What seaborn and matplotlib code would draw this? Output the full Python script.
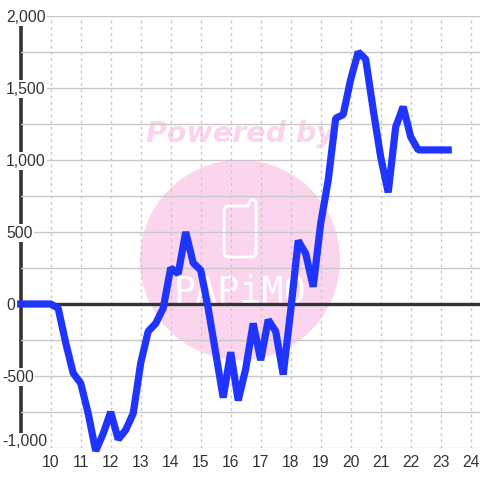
import numpy as np
import seaborn as sns
import matplotlib.pyplot as plt
from matplotlib.patches import Circle, PathPatch
from matplotlib.path import Path
from matplotlib.transforms import ScaledTranslation

# quarter hour samples from 9:00 to 23:15
hours = np.arange(9, 23.5, 0.25)
values = [0, 0, 0, 0, 0,
          -30, -270, -480, -550, -760, -1020, -900, -750, -940, -875, -760,
          -410, -190, -135, -30, 250, 210, 500, 285, 235, -30, -340, -650,
          -335, -670, -450, -135, -390, -110, -190, -490, -45, 440, 350, 120,
          560, 860, 1290, 1315, 1560, 1750, 1700, 1350, 1020, 775, 1230, 1370,
          1160, 1070, 1070, 1070, 1070, 1070]
xticks = list(range(10, 25))
yticks = [-1000, -500, 0, 500, 1000, 1500, 2000]
ylabels = ['-1,000', '-500', '0', '500', '1,000', '1,500', '2,000']
yminor = [-750, -250, 250, 750, 1250, 1750]

sns.set_theme(style='white')
plt.rcParams['font.family'] = ['Liberation Sans', 'DejaVu Sans']

fig = plt.figure(figsize=(4.8, 4.8), dpi=100, facecolor='white')

# watermark sits behind the chart, drawn in pixels
bg = fig.add_axes([0, 0, 1, 1], zorder=0)
bg.set_xlim(0, 480)
bg.set_ylim(480, 0)
bg.axis('off')
pink = '#fbd5ee'
bg.add_patch(Circle((240, 260), 100, fc=pink, ec='none'))
phone = Path([(229, 206), (224, 206), (224, 211), (224, 252), (224, 257), (229, 257),
              (251, 257), (256, 257), (256, 252), (256, 203), (256, 200), (253, 200),
              (249, 200), (248, 206), (244, 206), (229, 206)],
             [Path.MOVETO, Path.CURVE3, Path.CURVE3, Path.LINETO, Path.CURVE3, Path.CURVE3,
              Path.LINETO, Path.CURVE3, Path.CURVE3, Path.LINETO, Path.CURVE3, Path.CURVE3,
              Path.CURVE3, Path.CURVE3, Path.LINETO, Path.LINETO])
bg.add_patch(PathPatch(phone, fc='none', ec='white', lw=2))
bg.text(240, 134, 'Powered by', color=pink, fontsize=20.5, fontweight='bold',
        fontstyle='italic', ha='center', va='center', family=['DejaVu Sans'])
bg.text(240, 292, 'PAPiMO', color='white', fontsize=26.5, ha='center', va='center',
        family=['DejaVu Sans Mono'])

ax = fig.add_axes([20.7 / 480, 32 / 480, (480 - 20.7) / 480, 432 / 480], zorder=1)
ax.patch.set_alpha(0)
ax.set_xlim(9, 24.31)
ax.set_ylim(-1000, 2000)

for s in ['top', 'right', 'bottom']:
    ax.spines[s].set_visible(False)
ax.spines['left'].set_color('#333333')
ax.spines['left'].set_linewidth(2.6)
ax.spines['left'].set_zorder(2)

ax.set_xticks(xticks)
ax.set_yticks(yticks)
ax.set_yticklabels(ylabels)
ax.set_yticks(yminor, minor=True)
ax.tick_params(axis='both', which='both', length=0)
ax.tick_params(axis='x', pad=5, labelsize=11.3, labelcolor='#333333')
ax.tick_params(axis='y', pad=0, labelsize=11.3, labelcolor='#333333')
ax.grid(True, axis='y', which='both', color='#c8c8c8', lw=1)
ax.grid(True, axis='x', color='#c8c8c8', lw=1, ls=(0, (2, 2.5)))
# axis stays above the spine so the white label boxes can cut it
ax.set_axisbelow(False)

ax.axhline(0, color='#333333', lw=2.4, zorder=2.6)

sns.lineplot(x=hours, y=values, ax=ax, color='#1f35ff', linewidth=5.2, zorder=3,
             errorbar=None, clip_on=False, solid_joinstyle='bevel',
             solid_capstyle='projecting')

# y labels sit on the plot on a white box that hides spine and grid
for lab, txt in zip(ax.get_yticklabels(), ylabels):
    lab.set_ha('left')
    lab.set_va('center')
    lab.set_x(((2 if txt.startswith('-') else 6) - 20.7) / (480 - 20.7))
    lab.set_bbox(dict(fc='white', ec='none', pad=1))
    dy = 6 if txt == '-1,000' else -1
    lab.set_transform(lab.get_transform() + ScaledTranslation(0, dy / 100, fig.dpi_scale_trans))

ax.set_xlabel('')
ax.set_ylabel('')
fig.savefig('out.png', dpi=100)
